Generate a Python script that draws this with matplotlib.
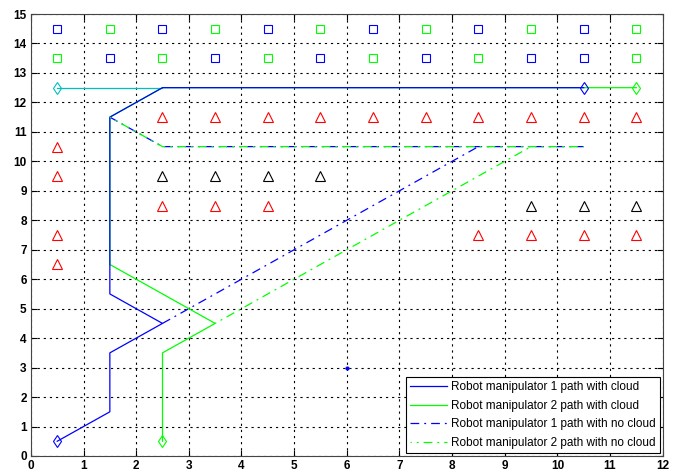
import numpy as np
import matplotlib
matplotlib.use("Agg")
import matplotlib.pyplot as plt

plt.rcParams['font.family'] = ['Liberation Sans', 'DejaVu Sans']

# obstacle squares (top two rows)
sq_blue_x = [0.5, 2.5, 4.5, 6.5, 8.5, 10.5, 1.5, 3.5, 5.5, 7.5, 9.5, 10.5]
sq_blue_y = [14.5, 14.5, 14.5, 14.5, 14.5, 14.5, 13.5, 13.5, 13.5, 13.5, 13.5, 13.5]
sq_green_x = [1.5, 3.5, 5.5, 7.5, 9.5, 11.5, 0.5, 2.5, 4.5, 6.5, 8.5, 11.5]
sq_green_y = [14.5, 14.5, 14.5, 14.5, 14.5, 14.5, 13.5, 13.5, 13.5, 13.5, 13.5, 13.5]

# triangles
tri_red_x = [2.5, 3.5, 4.5, 5.5, 6.5, 7.5, 8.5, 9.5, 10.5, 11.5,
             0.5, 0.5, 0.5, 0.5, 2.5, 3.5, 4.5, 8.5, 9.5, 10.5, 11.5]
tri_red_y = [11.5, 11.5, 11.5, 11.5, 11.5, 11.5, 11.5, 11.5, 11.5, 11.5,
             10.5, 9.5, 7.5, 6.5, 8.5, 8.5, 8.5, 7.5, 7.5, 7.5, 7.5]
tri_black_x = [2.5, 3.5, 4.5, 5.5, 9.5, 10.5, 11.5]
tri_black_y = [9.5, 9.5, 9.5, 9.5, 8.5, 8.5, 8.5]

# paths with cloud
r1_x = [0.5, 1.5, 1.5, 2.5, 1.5, 1.5, 2.5, 10.5]
r1_y = [0.5, 1.5, 3.5, 4.5, 5.5, 11.5, 12.5, 12.5]
r2_x = [2.5, 2.5, 3.5, 1.5, 1.5, 2.5, 10.5, 11.5]
r2_y = [0.5, 3.5, 4.5, 6.5, 11.5, 12.5, 12.5, 12.5]

# paths with no cloud
r1n_x = [1.5, 2.5, 10.5, np.nan, 2.5, 8.5]
r1n_y = [11.5, 10.5, 10.5, np.nan, 4.5, 10.5]
r2n_x = [1.5, 2.5, 10.5, np.nan, 3.5, 9.5]
r2n_y = [11.5, 10.5, 10.5, np.nan, 4.5, 10.5]

cyan_x = [0.5, 2.5]
cyan_y = [12.5, 12.5]

fig = plt.figure(figsize=(6.86, 4.75), dpi=100)
ax = fig.add_axes([0.045, 0.04, 0.921, 0.9305])

ax.plot(sq_blue_x, sq_blue_y, 's', mfc='none', mec='b', ms=5.5, mew=0.8)
ax.plot(sq_green_x, sq_green_y, 's', mfc='none', mec='#00ff00', ms=5.5, mew=0.8)
ax.plot(tri_red_x, tri_red_y, '^', mfc='none', mec='r', ms=7, mew=0.8)
ax.plot(tri_black_x, tri_black_y, '^', mfc='none', mec='k', ms=7, mew=0.8)

ax.plot(cyan_x, cyan_y, '-', color='c', lw=0.9)
ax.plot(cyan_x[0], cyan_y[0], 'd', mfc='none', mec='c', ms=6, mew=0.8)

l2, = ax.plot(r2_x, r2_y, '-', color='#00ff00', lw=0.9, zorder=2,
              label='Robot manipulator 2 path with cloud')
l1, = ax.plot(r1_x, r1_y, '-', color='b', lw=0.9, zorder=3,
              label='Robot manipulator 1 path with cloud')
ax.plot(r1_x[0], r1_y[0], 'd', mfc='none', mec='b', ms=6, mew=0.8, zorder=4)
ax.plot(r1_x[-1], r1_y[-1], 'd', mfc='none', mec='b', ms=6, mew=0.8, zorder=4)
ax.plot(r2_x[0], r2_y[0], 'd', mfc='none', mec='#00ff00', ms=6, mew=0.8, zorder=4)
ax.plot(r2_x[-1], r2_y[-1], 'd', mfc='none', mec='#00ff00', ms=6, mew=0.8, zorder=4)

dashdot = (0, (7, 4, 1.5, 4))
l3, = ax.plot(r1n_x, r1n_y, color='b', lw=0.9, ls=dashdot, zorder=3,
              label='Robot manipulator 1 path with no cloud')
l4, = ax.plot(r2n_x, r2n_y, color='#00ff00', lw=0.9, ls=(6, (7, 4, 1.5, 4)), zorder=3,
              label='Robot manipulator 2 path with no cloud')

ax.plot([6], [3], '.', color='b', ms=4)

ax.set_xlim(0, 12)
ax.set_ylim(0, 15)
ax.set_xticks(range(0, 13))
ax.set_yticks(range(0, 16))
ax.grid(True, color='k', ls=(0, (2, 3.5)), lw=0.8)
ax.tick_params(direction='in', top=True, right=True, labelsize=8.5, length=4, pad=3)
for lab in ax.get_xticklabels() + ax.get_yticklabels():
    lab.set_fontweight('bold')
for sp in ax.spines.values():
    sp.set_color('#444444')

leg = ax.legend(handles=[l1, l2, l3, l4], loc='lower right', fontsize=8.5,
                fancybox=False, edgecolor='k', framealpha=1, borderpad=0.35,
                handlelength=3.2, handletextpad=0.3, labelspacing=0.55,
                borderaxespad=0.25)
leg.get_frame().set_linewidth(0.8)

fig.savefig('out.png', dpi=100)
